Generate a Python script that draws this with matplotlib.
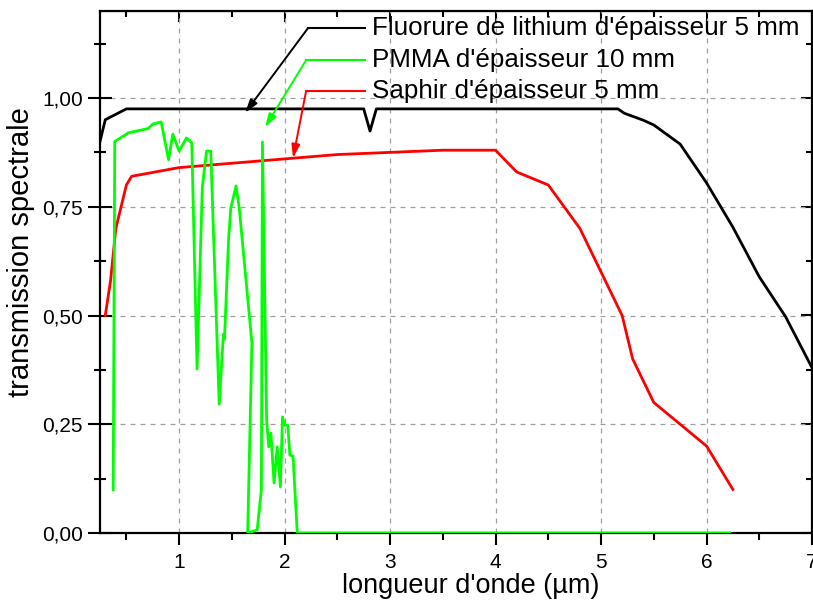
import numpy as np
import matplotlib
matplotlib.use("Agg")
import matplotlib.pyplot as plt
from matplotlib.ticker import MultipleLocator, FuncFormatter

plt.rcParams['font.family'] = ['Liberation Sans', 'DejaVu Sans']

# fluorure de lithium 5 mm
lif_x = [0.25, 0.3, 0.5, 1.0, 2.0, 2.75, 2.81, 2.87, 3.0, 4.0, 5.0, 5.16, 5.22, 5.4, 5.5, 5.75, 6.0, 6.25, 6.5, 6.75, 7.0]
lif_y = [0.90, 0.95, 0.975, 0.975, 0.975, 0.975, 0.924, 0.975, 0.975, 0.975, 0.975, 0.975, 0.965, 0.949, 0.938, 0.894, 0.805, 0.703, 0.589, 0.497, 0.38]

# PMMA 10 mm
pmma_x = [0.375, 0.39, 0.52, 0.71, 0.75, 0.83, 0.90, 0.94, 1.0, 1.07, 1.12, 1.17, 1.22, 1.26, 1.30,
          1.38, 1.42, 1.43, 1.47, 1.49, 1.54, 1.57, 1.69, 1.65, 1.74, 1.78, 1.79, 1.83, 1.85, 1.87,
          1.90, 1.93, 1.96, 1.98, 2.0, 2.03, 2.05, 2.08, 2.12, 3.0, 4.0, 5.0, 6.0, 6.22]
pmma_y = [0.10, 0.90, 0.92, 0.93, 0.94, 0.945, 0.858, 0.917, 0.878, 0.908, 0.897, 0.377, 0.795, 0.878, 0.878,
          0.296, 0.457, 0.446, 0.68, 0.747, 0.798, 0.747, 0.437, 0.0, 0.007, 0.10, 0.899, 0.257, 0.198, 0.23,
          0.115, 0.198, 0.106, 0.267, 0.248, 0.248, 0.179, 0.177, 0.0, 0.0, 0.0, 0.0, 0.0, 0.0]

# saphir 5 mm
saph_x = [0.30, 0.35, 0.4, 0.5, 0.55, 1.0, 2.0, 2.5, 3.0, 3.5, 4.0, 4.2, 4.5, 4.8, 5.0, 5.2, 5.3, 5.5, 6.0, 6.25]
saph_y = [0.50, 0.58, 0.70, 0.80, 0.82, 0.84, 0.86, 0.87, 0.875, 0.88, 0.88, 0.83, 0.80, 0.70, 0.60, 0.50, 0.40, 0.30, 0.20, 0.10]

labels = ["Fluorure de lithium d'épaisseur 5 mm", "PMMA d'épaisseur 10 mm", "Saphir d'épaisseur 5 mm"]
colors = ['black', '#00ff00', '#ff0000']

fig = plt.figure(figsize=(8.13, 6.0), dpi=100)
ax = fig.add_axes([100/813, 67/600, 712/813, 522/600])

ax.plot(saph_x, saph_y, color=colors[2], lw=2.0, zorder=3)
ax.plot(pmma_x, pmma_y, color=colors[1], lw=2.0, zorder=4)
ax.plot(lif_x, lif_y, color=colors[0], lw=2.0, zorder=5)

ax.set_xlim(0.25, 7)
ax.set_ylim(0, 1.2)
ax.xaxis.set_major_locator(MultipleLocator(1))
ax.xaxis.set_minor_locator(MultipleLocator(0.5))
ax.yaxis.set_major_locator(MultipleLocator(0.25))
ax.yaxis.set_minor_locator(MultipleLocator(0.125))
ax.xaxis.set_major_formatter(FuncFormatter(lambda v, p: "%d" % round(v)))
ax.yaxis.set_major_formatter(FuncFormatter(lambda v, p: ("%.2f" % v).replace('.', ',')))
ax.grid(True, which='major', color='#a0a0a0', ls=(0, (4, 4)), lw=0.9)

for s in ax.spines.values():
    s.set_linewidth(1.6)
ax.tick_params(axis='y', which='major', direction='inout', length=17, width=1.5, labelsize=15, pad=4)
ax.tick_params(axis='y', which='minor', direction='inout', length=8.5, width=1.5)
ax.tick_params(axis='x', which='major', direction='out', length=8.5, width=1.5, labelsize=15, pad=6)
ax.tick_params(axis='x', which='minor', direction='out', length=5, width=1.5)

top = ax.secondary_xaxis('top')
top.xaxis.set_major_locator(MultipleLocator(1))
top.xaxis.set_minor_locator(MultipleLocator(0.5))
top.tick_params(which='major', direction='in', length=8, width=1.5, labeltop=False)
top.tick_params(which='minor', direction='in', length=4.5, width=1.5)
right = ax.secondary_yaxis('right')
right.yaxis.set_major_locator(MultipleLocator(0.25))
right.yaxis.set_minor_locator(MultipleLocator(0.125))
right.tick_params(which='major', direction='in', length=8, width=1.5, labelright=False)
right.tick_params(which='minor', direction='in', length=4.5, width=1.5)

ax.set_xlabel("longueur d'onde (µm)", fontsize=19.5)
ax.xaxis.set_label_coords(0.521, -0.076)
ax.set_ylabel("transmission spectrale", fontsize=21)
ax.yaxis.set_label_coords(-0.091, 0.538)

# annotations (leader + arrow)
corner_y = [1.161, 1.087, 1.016]
corner_x = [2.223, 2.204, 2.204]
tips = [(1.626, 0.966), (1.815, 0.933), (2.08, 0.862)]
for lab, c, cx, cy, tip in zip(labels, colors, corner_x, corner_y, tips):
    ax.plot([cx, 2.763], [cy, cy], color=c, lw=1.5, zorder=6, clip_on=False)
    ax.annotate('', xy=tip, xytext=(cx, cy),
                arrowprops=dict(arrowstyle='-|>,head_length=0.8,head_width=0.25', color=c, lw=1.4,
                                shrinkA=0, shrinkB=0), zorder=6)
    ax.text(2.83, cy, lab, fontsize=18.7, va='center', ha='left', zorder=7)

fig.savefig("out.png", dpi=100)
